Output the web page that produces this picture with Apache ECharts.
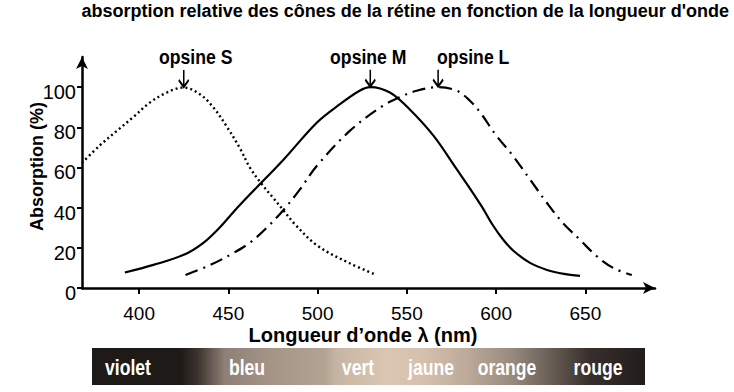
<!DOCTYPE html>
<html><head><meta charset="utf-8">
<script src="https://cdn.jsdelivr.net/npm/echarts@6/dist/echarts.min.js"></script>
<style>html,body{margin:0;padding:0;background:#fff}#c{width:734px;height:392px}</style>
</head><body><div id="c"></div>
<script>
// ---- data ----
const TITLE = "absorption relative des cônes de la rétine en fonction de la longueur d'onde";
const X_NAME = "Longueur d\u2019onde \u03bb (nm)";
const Y_NAME = "Absorption (%)";
const xTicks = [400, 450, 500, 550, 600, 650];
const yTicks = [0, 20, 40, 60, 80, 100];

const sWl  = [368, 378, 387.5, 397, 406, 415.5, 425, 434, 441.5, 449, 456.5, 462, 468, 475, 481, 487, 500, 518, 533];
const sAbs = [62.3, 71, 78.2, 85.3, 92.3, 97.3, 99.8, 96.5, 90, 80.5, 69.5, 60, 52.5, 45, 38.5, 32, 21, 12.3, 6.5];

const mWl  = [392, 408, 425, 436, 445, 453, 462, 481, 499.5, 512.5, 523.5, 529.5, 540.5, 551.5, 565, 578, 585, 592, 598, 604, 610, 619, 628.5, 638, 647];
const mAbs = [7.7, 11.5, 16.5, 22.5, 30, 38, 46.5, 64, 82.3, 91.5, 98.2, 100, 97.3, 89, 75.7, 59, 50, 40.5, 31.5, 24, 18.3, 12.5, 9, 7, 6];

const lWl  = [426, 440, 453, 462, 471.5, 481, 490, 499.5, 518, 536.5, 546, 555.5, 567.5, 578, 585, 591, 600, 609.5, 619, 628.5, 637.5, 647, 656.5, 666, 676];
const lAbs = [6.5, 11.5, 17.5, 22.5, 30, 39, 49, 60.7, 78.2, 90.7, 95, 98.2, 100, 98.2, 93.5, 87.5, 76, 65.7, 54, 42.3, 32.3, 24, 15.7, 9.8, 6.5];

const seriesNames = ['opsine S', 'opsine M', 'opsine L'];
const bandNames = ['violet', 'bleu', 'vert', 'jaune', 'orange', 'rouge'];

// ---- drawing ----
const SANS = "'Liberation Sans', Arial, sans-serif";

function pairs(wl, ab) { return wl.map((w, i) => [w, ab[i]]); }
function peak(wl, ab) { let k = 0; ab.forEach((v, i) => { if (v > ab[k]) k = i; }); return [wl[k], ab[k]]; }

const arrowPath = 'path://M5 0 L5 17 M0 10 L5 17 L10 10';
function marker(wl, ab) {
  return {
    symbol: arrowPath, symbolSize: [10, 17], symbolOffset: [0, -9],
    itemStyle: { color: 'transparent', borderColor: '#000', borderWidth: 2 },
    label: { show: false },
    silent: true, animation: false,
    data: [{ coord: peak(wl, ab) }]
  };
}

const lineBase = { type: 'line', showSymbol: false, symbol: 'none', smooth: 0.35, animation: false, silent: true };

const chart = echarts.init(document.getElementById('c'), null, { renderer: 'svg' });
chart.setOption({
  backgroundColor: '#fff',
  animation: false,
  title: { text: TITLE, right: 5, top: 2, padding: 0,
           textStyle: { fontFamily: SANS, fontWeight: 'bold', fontSize: 18, color: '#000' } },
  grid: { left: 82, right: 79, top: 57, bottom: 104, containLabel: false },
  xAxis: {
    type: 'value', min: 368, max: 689,
    name: X_NAME, nameLocation: 'middle', nameGap: 37, nameMoveOverlap: false,
    nameTextStyle: { fontFamily: SANS, fontWeight: 'bold', fontSize: 20, color: '#000', padding: [0, 11, 0, 0] },
    axisLine: { show: true, symbol: ['none', 'arrow'], symbolSize: [9, 12], lineStyle: { color: '#000', width: 2.5 } },
    axisTick: { show: true, length: 6, lineStyle: { color: '#000', width: 2 }, customValues: xTicks },
    axisLabel: { margin: 16, color: '#000', fontFamily: SANS, fontSize: 19, customValues: xTicks },
    splitLine: { show: false }
  },
  yAxis: {
    type: 'value', min: 0, max: 115,
    name: Y_NAME, nameLocation: 'middle', nameGap: 36, nameRotate: 90, nameMoveOverlap: false,
    nameTextStyle: { fontFamily: SANS, fontWeight: 'bold', fontSize: 18, color: '#000', padding: [0, 0, 0, 12] },
    axisLine: { show: true, symbol: ['none', 'arrow'], symbolSize: [9, 12], lineStyle: { color: '#000', width: 2.5 } },
    axisTick: { show: true, length: 5, lineStyle: { color: '#000', width: 2 }, customValues: yTicks },
    axisLabel: { margin: 6, color: '#000', fontFamily: SANS, fontSize: 20, verticalAlign: 'top', lineHeight: 10, customValues: yTicks },
    splitLine: { show: false }
  },
  series: [
    Object.assign({}, lineBase, { name: seriesNames[0], data: pairs(sWl, sAbs),
      lineStyle: { color: '#000', width: 2.4, type: [2, 3] }, markPoint: marker(sWl, sAbs) }),
    Object.assign({}, lineBase, { name: seriesNames[1], data: pairs(mWl, mAbs),
      lineStyle: { color: '#000', width: 2.2, type: 'solid' }, markPoint: marker(mWl, mAbs) }),
    Object.assign({}, lineBase, { name: seriesNames[2], data: pairs(lWl, lAbs),
      lineStyle: { color: '#000', width: 2.2, type: [13, 6, 2, 6] }, markPoint: marker(lWl, lAbs) })
  ]
});

// annotation labels placed from the peaks through the chart's own scales
const peaks = [peak(sWl, sAbs), peak(mWl, mAbs), peak(lWl, lAbs)];
const labelDx = [12, -2, 35];
const labelGraphics = peaks.map((p, i) => {
  const px = chart.convertToPixel({ gridIndex: 0 }, p);
  return { type: 'text', x: px[0] + labelDx[i], y: px[1] - 31, scaleX: 0.84, silent: true,
    style: { text: seriesNames[i], fill: '#000', font: 'bold 21px ' + SANS, align: 'center', verticalAlign: 'middle' } };
});

const bandCenters = [128, 247, 358, 431, 507, 598];
chart.setOption({
  graphic: [
    { type: 'rect', left: 92, top: 348, silent: true,
      shape: { width: 553, height: 37 },
      style: { fill: { type: 'linear', x: 0, y: 0, x2: 1, y2: 0, colorStops: [
        { offset: 0, color: '#1e1a18' }, { offset: 0.16, color: '#1e1a18' },
        { offset: 0.19, color: '#3a322e' }, { offset: 0.24, color: '#8e8076' },
        { offset: 0.32, color: '#a39486' }, { offset: 0.42, color: '#b3a393' },
        { offset: 0.44, color: '#c6b4a2' }, { offset: 0.53, color: '#dac6b2' },
        { offset: 0.60, color: '#d4c0ac' }, { offset: 0.68, color: '#bba999' },
        { offset: 0.76, color: '#978a7e' }, { offset: 0.84, color: '#62574f' },
        { offset: 0.90, color: '#382f2c' }, { offset: 1, color: '#221d1b' } ] } } }
  ].concat(bandNames.map((n, i) => ({
    type: 'text', x: bandCenters[i], y: 367, scaleX: 0.8, silent: true,
    style: { text: n, fill: '#fff', font: 'bold 22px ' + SANS, align: 'center', verticalAlign: 'middle',
             shadowColor: 'rgba(0,0,0,0.85)', shadowBlur: 2, shadowOffsetX: 2, shadowOffsetY: 2 }
  }))).concat(labelGraphics)
});
</script></body></html>
